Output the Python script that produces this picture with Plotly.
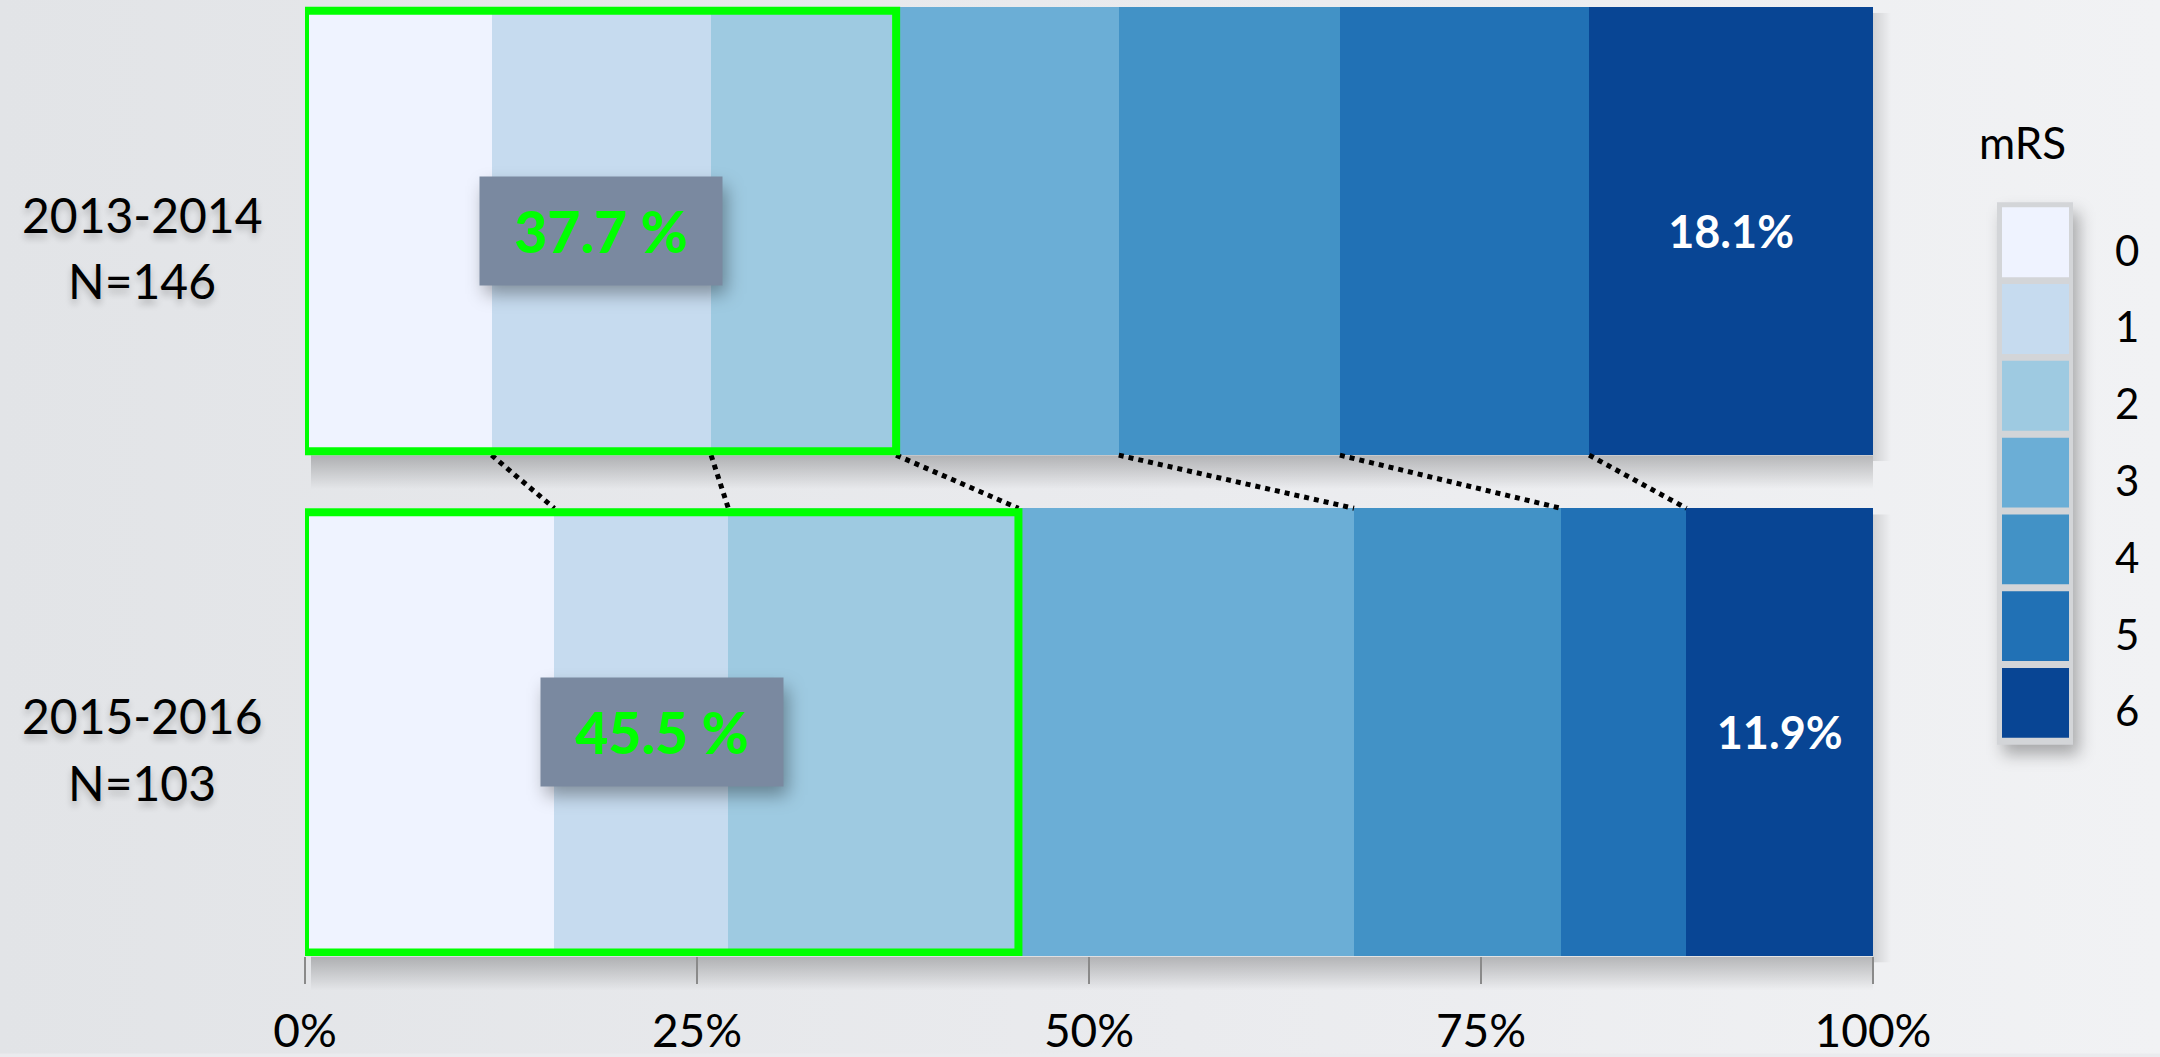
import base64
import plotly.graph_objects as go

# --- data -------------------------------------------------------------
periods = ["2013-2014", "2015-2016"]
patients = [146, 103]
mrs_scores = ["0", "1", "2", "3", "4", "5", "6"]
share_2013_2014 = [11.9, 14.0, 11.8, 14.2, 14.1, 15.9, 18.1]
share_2015_2016 = [15.9, 11.1, 18.5, 21.4, 13.2, 8.0, 11.9]
mrs_colors = ["#eff3ff", "#c6dbef", "#9ecae1", "#6baed6", "#4292c6", "#2171b5", "#084594"]
x_ticks = [0, 25, 50, 75, 100]
x_tick_labels = ["0%", "25%", "50%", "75%", "100%"]

# --- layout geometry ---------------------------------------------------
W, H = 2160, 1057
M_L, M_R, M_T, M_B = 305, 287, 0, 98
PLOT_W, PLOT_H = W - M_L - M_R, H - M_T - M_B
Y_RANGE = [1.4458, -0.4607]
BAR_GAP = 0.106
HALF = (1 - BAR_GAP) / 2
FONT = "Lato, 'Open Sans', sans-serif"
GREEN = "#00ff00"

rows = [share_2013_2014, share_2015_2016]
row_pos = [0, 1]


def cumulative(vals):
    out, s = [], 0.0
    for v in vals:
        s += v
        out.append(round(s, 4))
    return out


def px_x(p):
    return (p - M_L) / PLOT_W


def px_y(p):
    return 1 - (p - M_T) / PLOT_H


def y_to_px(v):
    return M_T + (v - Y_RANGE[1]) / (Y_RANGE[0] - Y_RANGE[1]) * PLOT_H


def x_to_px(v):
    return M_L + v / 100 * PLOT_W


def svg_uri(svg):
    return "data:image/svg+xml;base64," + base64.b64encode(svg.encode()).decode()


def gradient_svg(direction, stops):
    x2, y2 = ("1", "0") if direction == "h" else ("0", "1")
    st = "".join(f'<stop offset="{o}" stop-color="{c}" stop-opacity="{a}"/>' for o, c, a in stops)
    return svg_uri(
        '<svg xmlns="http://www.w3.org/2000/svg" width="100" height="100" preserveAspectRatio="none">'
        f'<defs><linearGradient id="g" x1="0" y1="0" x2="{x2}" y2="{y2}">{st}</linearGradient></defs>'
        '<rect width="100" height="100" fill="url(#g)"/></svg>'
    )


def blur_rect_svg(w, h, pad, blur, alpha):
    return svg_uri(
        f'<svg xmlns="http://www.w3.org/2000/svg" width="{w + 2 * pad}" height="{h + 2 * pad}">'
        f'<defs><filter id="b" x="-50%" y="-50%" width="200%" height="200%">'
        f'<feGaussianBlur stdDeviation="{blur}"/></filter></defs>'
        f'<rect x="{pad}" y="{pad}" width="{w}" height="{h}" fill="black" fill-opacity="{alpha}" filter="url(#b)"/></svg>'
    )


fig = go.Figure()

# stacked mRS segments
for i, score in enumerate(mrs_scores):
    vals = [r[i] for r in rows]
    last = i == len(mrs_scores) - 1
    fig.add_trace(go.Bar(
        y=row_pos, x=vals, orientation="h", name=score,
        marker=dict(color=mrs_colors[i], line=dict(width=0)),
        text=[f"{v:.1f}%" for v in vals] if last else None,
        textposition="inside" if last else "none",
        insidetextanchor="middle",
        textangle=0,
        textfont=dict(family=FONT, size=45, color="white", weight="bold"),
        showlegend=False, hoverinfo="x+name",
    ))

# dotted connectors between matching category boundaries
cum_a, cum_b = cumulative(share_2013_2014), cumulative(share_2015_2016)
for k in range(len(mrs_scores) - 1):
    fig.add_trace(go.Scatter(
        x=[cum_a[k], cum_b[k]], y=[row_pos[0] + HALF, row_pos[1] - HALF],
        mode="lines", line=dict(color="black", width=5, dash="5px,5px"),
        showlegend=False, hoverinfo="skip",
    ))

shapes, annotations, images = [], [], []

# background
images.append(dict(
    source=gradient_svg("h", [(0, "#e2e4e7", 1), (0.55, "#eaebee", 1), (1, "#f1f2f4", 1)]),
    xref="paper", yref="paper", x=px_x(0), y=px_y(0), sizex=W / PLOT_W, sizey=H / PLOT_H,
    sizing="stretch", xanchor="left", yanchor="top", layer="below",
))
images.append(dict(
    source=gradient_svg("v", [(0, "#ffffff", 0), (1, "#ffffff", 0.35)]),
    xref="paper", yref="paper", x=px_x(0), y=px_y(0), sizex=W / PLOT_W, sizey=H / PLOT_H,
    sizing="stretch", xanchor="left", yanchor="top", layer="below",
))

# soft drop shadows of the bars
for pos in row_pos:
    top_px, bot_px = y_to_px(pos - HALF), y_to_px(pos + HALF)
    images.append(dict(
        source=gradient_svg("v", [(0, "#000000", 0.24), (1, "#000000", 0)]),
        xref="paper", yref="paper", x=px_x(x_to_px(0) + 6), y=px_y(bot_px),
        sizex=(PLOT_W - 6) / PLOT_W, sizey=34 / PLOT_H,
        sizing="stretch", xanchor="left", yanchor="top", layer="below",
    ))
    images.append(dict(
        source=gradient_svg("h", [(0, "#000000", 0.13), (1, "#000000", 0)]),
        xref="paper", yref="paper", x=px_x(x_to_px(100)), y=px_y(top_px + 6),
        sizex=18 / PLOT_W, sizey=(bot_px - top_px) / PLOT_H,
        sizing="stretch", xanchor="left", yanchor="top", layer="below",
    ))

# green frames around mRS 0-2 with the summed share
inset = 4 / (PLOT_H / (Y_RANGE[0] - Y_RANGE[1]))
for r, pos in zip(rows, row_pos):
    good = sum(r[:3])
    bx = good / 2
    shapes.append(dict(
        type="rect", xref="x", yref="y", x0=0, x1=good,
        y0=pos - HALF + inset, y1=pos + HALF - inset,
        line=dict(color=GREEN, width=8), fillcolor="rgba(0,0,0,0)", layer="above",
    ))
    cx, cy = x_to_px(bx), y_to_px(pos)
    images.append(dict(
        source=blur_rect_svg(242, 108, 30, 9, 0.35),
        xref="paper", yref="paper", x=px_x(cx - 121 - 30 + 5), y=px_y(cy - 54 - 30 + 9),
        sizex=(242 + 60) / PLOT_W, sizey=(108 + 60) / PLOT_H,
        sizing="stretch", xanchor="left", yanchor="top", layer="above",
    ))
    annotations.append(dict(
        x=bx, y=pos, xref="x", yref="y", showarrow=False,
        text=f"{good:.1f} %", width=242, height=108, borderpad=0,
        bgcolor="#7a89a0", align="center", valign="middle",
        font=dict(family=FONT, size=57, color=GREEN, weight=900),
    ))

# row labels (period on the first line, cohort size below)
for name, n, pos in zip(periods, patients, row_pos):
    cy = y_to_px(pos)
    for txt, dy in ((name, -17), (f"N={n}", 50)):
        annotations.append(dict(
            x=px_x(142), y=px_y(cy + dy), xref="paper", yref="paper", showarrow=False,
            xanchor="center", yanchor="middle", align="center", text=txt,
            font=dict(family=FONT, size=48, color="black", shadow="0px 5px 7px rgba(0,0,0,0.22)"),
        ))

# legend
LEG_X0, LEG_X1, LEG_TOP, LEG_BOT = 1997, 2073, 203, 747
pitch = (LEG_BOT - LEG_TOP - 5) / len(mrs_scores)
images.append(dict(
    source=blur_rect_svg(LEG_X1 - LEG_X0, LEG_BOT - LEG_TOP, 30, 8, 0.3),
    xref="paper", yref="paper", x=px_x(LEG_X0 - 30 + 6), y=px_y(LEG_TOP - 30 + 10),
    sizex=(LEG_X1 - LEG_X0 + 60) / PLOT_W, sizey=(LEG_BOT - LEG_TOP + 60) / PLOT_H,
    sizing="stretch", xanchor="left", yanchor="top", layer="below",
))
shapes.append(dict(
    type="rect", xref="paper", yref="paper",
    x0=px_x(LEG_X0), x1=px_x(LEG_X1), y0=px_y(LEG_BOT), y1=px_y(LEG_TOP),
    fillcolor="#d3d5d8", line=dict(width=0), layer="above",
))
for i, (score, color) in enumerate(zip(mrs_scores, mrs_colors)):
    top = LEG_TOP + 5 + i * pitch
    shapes.append(dict(
        type="rect", xref="paper", yref="paper",
        x0=px_x(LEG_X0 + 5), x1=px_x(LEG_X1 - 4), y0=px_y(top + pitch - 7), y1=px_y(top),
        fillcolor=color, line=dict(width=0), layer="above",
    ))
    annotations.append(dict(
        x=px_x(2127), y=px_y(top + pitch / 2 + 4), xref="paper", yref="paper",
        showarrow=False, xanchor="center", yanchor="middle", text=score,
        font=dict(family=FONT, size=42, color="black"),
    ))
annotations.append(dict(
    x=px_x(2022), y=px_y(142), xref="paper", yref="paper", showarrow=False,
    xanchor="center", yanchor="middle", text="mRS",
    font=dict(family=FONT, size=44, color="black"),
))

fig.update_layout(
    width=W, height=H, autosize=False,
    margin=dict(l=M_L, r=M_R, t=M_T, b=M_B, pad=0),
    barmode="stack", bargap=BAR_GAP,
    paper_bgcolor="#eaebee", plot_bgcolor="rgba(0,0,0,0)",
    xaxis=dict(
        range=[0, 100], tickvals=x_ticks, ticktext=x_tick_labels,
        ticks="outside", ticklen=27, tickwidth=1.5, tickcolor="#8a8a8a",
        ticklabelstandoff=8,
        showgrid=False, zeroline=False, showline=False, fixedrange=True,
        tickfont=dict(family=FONT, size=46, color="black"),
    ),
    yaxis=dict(
        range=Y_RANGE, showticklabels=False, showgrid=False, zeroline=False,
        showline=False, ticks="", fixedrange=True,
    ),
    shapes=shapes, annotations=annotations, images=images,
    uniformtext=dict(mode=False),
)

fig.write_html("out.html", config={"displayModeBar": False})
